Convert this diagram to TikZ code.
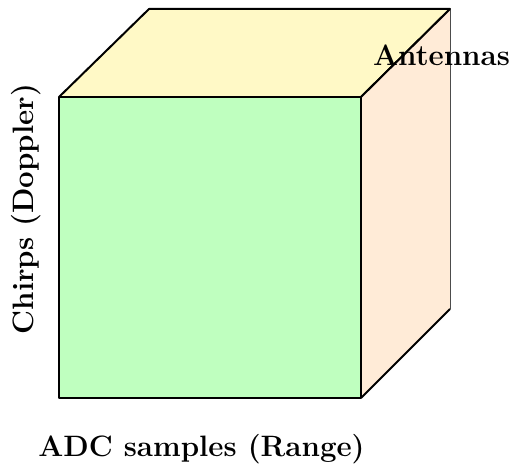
\documentclass[tikz,border=0pt]{standalone}
\usepackage{tikz}
\definecolor{frontc}{HTML}{BFFFBF}
\definecolor{topc}{HTML}{FFF9C6}
\definecolor{sidec}{HTML}{FFEBD7}
\tikzset{
  edge/.style={line width=2pt, line join=round, black},
  lbl/.style={font=\fontsize{29.5}{34}\selectfont\bfseries, inner sep=0pt}
}
\begin{document}
\begin{tikzpicture}[x=1pt,y=1pt]
\useasboundingbox (0,0) rectangle (513,467);
% front face corners
\coordinate (fbl) at (59,69);
\coordinate (fbr) at (361,69);
\coordinate (ftr) at (361,370);
\coordinate (ftl) at (59,370);
% back corners
\coordinate (btl) at (149,458);
\coordinate (btr) at (450,458);
\coordinate (bbr) at (450,158);
% top face
\fill[topc] (ftl) -- (btl) -- (btr) -- (ftr) -- cycle;
\draw[edge] (ftl) -- (btl) -- (btr) -- (ftr);
% right face
\fill[sidec] (ftr) -- (btr) -- (bbr) -- (fbr) -- cycle;
\draw[line width=0.6pt, black!70] (btr) -- (bbr);
\draw[edge] (bbr) -- (fbr);
\draw[edge] (ftr) -- (btr);
% front face
\filldraw[edge, fill=frontc] (fbl) rectangle (ftr);
% labels
\node[lbl, anchor=base] (ant) at (441.5,402) {Antennas};
\node[lbl, rotate=90] (chirps) at (26,258) {Chirps (Doppler)};
\node[lbl, anchor=base] (adc) at (201.5,11) {ADC samples (Range)};
\end{tikzpicture}
\end{document}
